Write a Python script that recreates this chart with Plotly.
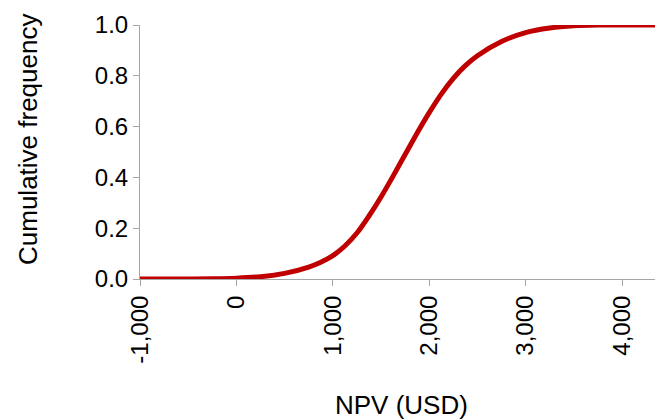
import plotly.graph_objects as go

npv = [-1000, -750, -500, -250, 0, 250, 500, 750, 875, 1000, 1125, 1250, 1375, 1500, 1625,
       1750, 1875, 2000, 2125, 2250, 2375, 2500, 2750, 3000, 3250, 3500, 3750, 4000,
       4250, 4425]
cum_freq = [0.0, 0.0, 0.0, 0.0005, 0.003, 0.009, 0.022, 0.047, 0.066, 0.092, 0.13, 0.181,
            0.248, 0.323, 0.405, 0.49, 0.575, 0.655, 0.728, 0.79, 0.84, 0.879, 0.935, 0.97,
            0.988, 0.997, 1.0, 1.0, 1.0, 1.0]

x_tickvals = [-1000, 0, 1000, 2000, 3000, 4000]
x_ticktext = ["-1,000", "0", "1,000", "2,000", "3,000", "4,000"]
y_tickvals = [0.0, 0.2, 0.4, 0.6, 0.8, 1.0]
y_ticktext = ["0.0", "0.2", "0.4", "0.6", "0.8", "1.0"]

font = "Liberation Sans, Arial, sans-serif"
axis_col = "#a6a6a6"

# page has an 8px body margin; figure sized/offset to compensate
W, H = 655, 412
L, T, B = 132, 17, 141
PH = H - T - B  # plot height
PW = W - L      # plot width

fig = go.Figure()
fig.add_trace(go.Scatter(x=npv, y=cum_freq, mode="lines",
                         line=dict(color="#c00000", width=5, shape="spline", smoothing=1.0),
                         showlegend=False, cliponaxis=False))

fig.update_layout(
    width=W, height=H,
    margin=dict(l=L, r=0, t=T, b=B, pad=0),
    paper_bgcolor="white", plot_bgcolor="white",
    font=dict(family=font, size=24, color="black"),
    xaxis=dict(range=[-1000, 4425], tickvals=x_tickvals, ticktext=x_ticktext,
               tickangle=-90, showgrid=False, zeroline=False,
               showline=True, linecolor=axis_col, linewidth=1,
               ticks="outside", ticklen=6, tickcolor=axis_col,
               tickfont=dict(family=font, size=24)),
    yaxis=dict(range=[0, 1], tickvals=y_tickvals, ticktext=y_ticktext,
               showgrid=False, zeroline=False,
               showline=True, linecolor=axis_col, linewidth=1,
               ticks="outside", ticklen=6, tickcolor=axis_col,
               tickfont=dict(family=font, size=24)),
    annotations=[
        dict(text="Cumulative frequency", xref="paper", yref="paper",
             x=(20 - L) / PW, y=(T + PH - 132) / PH, textangle=-90,
             showarrow=False, font=dict(family=font, size=26),
             xanchor="center", yanchor="middle"),
        dict(text="NPV (USD)", xref="paper", yref="paper",
             x=0.5, y=(T + PH - 397) / PH, showarrow=False,
             font=dict(family=font, size=26), xanchor="center", yanchor="middle"),
    ],
)

fig.write_html("out.html")
